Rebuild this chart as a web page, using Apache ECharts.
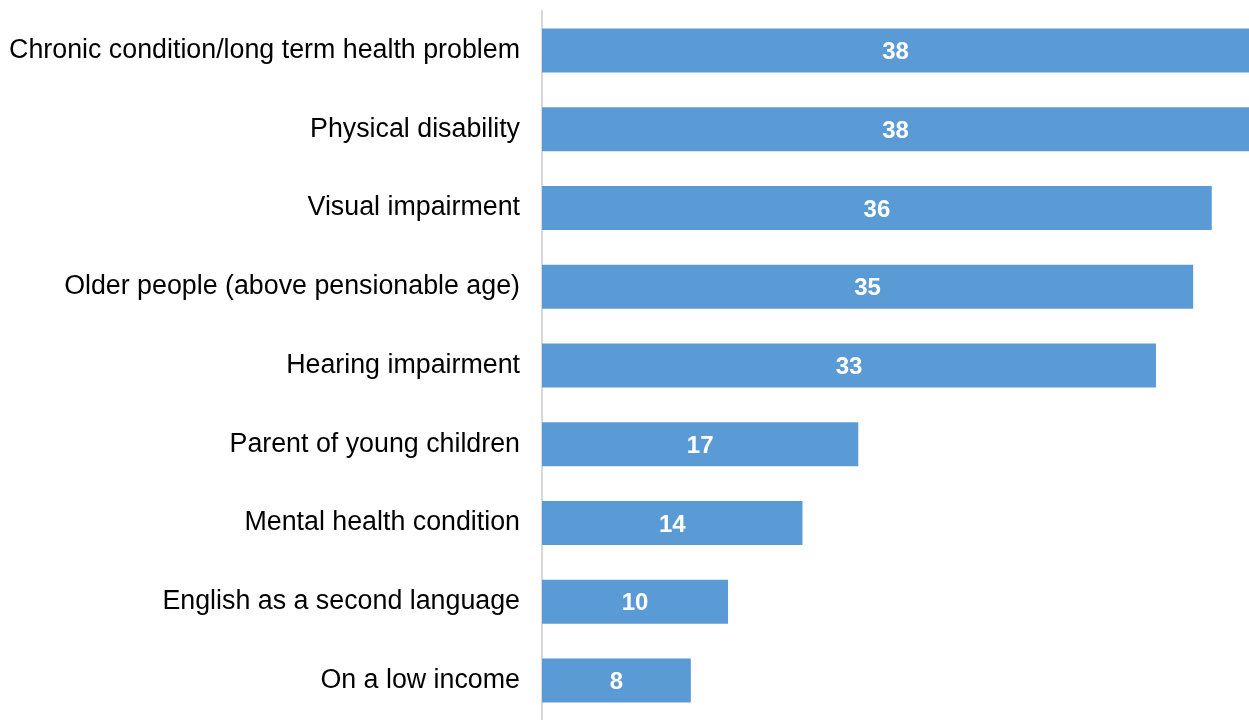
<!DOCTYPE html>
<html><head><meta charset="utf-8">
<script src="https://cdn.jsdelivr.net/npm/echarts@6/dist/echarts.min.js"></script>
<style>html,body{margin:0;padding:0;background:#fff}#c{width:1249px;height:720px}</style>
</head><body><div id="c"></div>
<script>
const categories = [
  "Chronic condition/long term health problem",
  "Physical disability",
  "Visual impairment",
  "Older people (above pensionable age)",
  "Hearing impairment",
  "Parent of young children",
  "Mental health condition",
  "English as a second language",
  "On a low income"
];
const values = [38, 38, 36, 35, 33, 17, 14, 10, 8];

const FONT = "'Liberation Sans', Arial, Helvetica, sans-serif";
const chart = echarts.init(document.getElementById('c'), null, {renderer: 'canvas'});
chart.setOption({
  animation: false,
  backgroundColor: '#ffffff',
  grid: {left: 542, top: 11, width: 710, height: 717, containLabel: false},
  xAxis: {type: 'value', min: 0, max: 38, show: false},
  yAxis: {
    type: 'category', data: categories, inverse: true,
    axisLine: {show: true, lineStyle: {color: '#d9d9d9', width: 2}},
    axisTick: {show: false},
    axisLabel: {color: '#000000', fontSize: 26.8, fontFamily: FONT, margin: 22, padding: [5, 0, 0, 0]}
  },
  series: [{
    type: 'bar', data: values, barWidth: 44,
    itemStyle: {color: '#5b9bd5'},
    label: {show: true, position: 'inside', offset: [0, 2], color: '#ffffff', fontWeight: 'bold', fontSize: 24, fontFamily: FONT}
  }]
});
</script></body></html>
